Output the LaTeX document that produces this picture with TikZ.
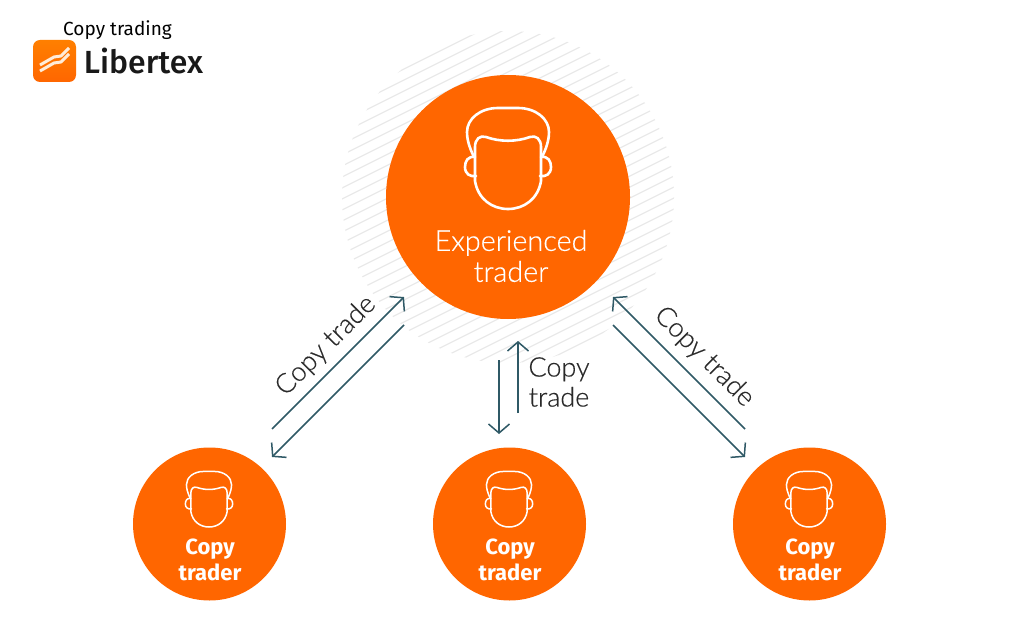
\documentclass[tikz,border=0pt]{standalone}
\usepackage{fontspec}
\setmainfont[FakeBold=0.35]{Lato Light}
\newfontfamily\fira{Fira Sans}
\newfontfamily\firam{Fira Sans Medium}
\usetikzlibrary{arrows.meta}
\definecolor{orangeM}{HTML}{FF6600}
\definecolor{arrowC}{HTML}{2F5966}
\definecolor{textC}{HTML}{2A2A2A}
\definecolor{hatchC}{HTML}{E9E9E9}
\newcommand{\facepic}[4]{% x, y, scale, line width
  \begin{scope}[shift={(#1,#2)},scale=#3,draw=white,line width=#4,line join=round,line cap=round,fill=none]
    % hair outline
    \draw (-34,-2) .. controls (-40,-14) and (-41,-22) .. (-41,-27)
      .. controls (-41,-40) and (-28,-51) .. (-10,-51)
      -- (10,-51) .. controls (28,-51) and (41,-40) .. (41,-27)
      .. controls (41,-22) and (40,-14) .. (34,-2);
    % face
    \draw (-33,22) .. controls (-33,10) and (-33,0) .. (-33,-12)
      .. controls (-33,-20) and (-28,-24) .. (-22,-22)
      .. controls (-8,-17) and (8,-17) .. (22,-22)
      .. controls (28,-24) and (33,-20) .. (33,-12)
      .. controls (33,0) and (33,10) .. (33,22)
      .. controls (30,40) and (16,50) .. (0,50)
      .. controls (-16,50) and (-30,40) .. (-33,22);
    % ears
    \draw (-33,-2) .. controls (-40,-3) and (-43,2) .. (-43,8)
      .. controls (-43,15) and (-38,18) .. (-32,17);
    \draw (33,-2) .. controls (40,-3) and (43,2) .. (43,8)
      .. controls (43,15) and (38,18) .. (32,17);
  \end{scope}}
\tikzset{
  big/.style={circle,fill=orangeM,minimum size=244pt,inner sep=0pt},
  small/.style={circle,fill=orangeM,minimum size=153pt,inner sep=0pt},
  biglabel/.style={text=white,align=center,font=\fontsize{28.8}{31}\selectfont},
  copylabel/.style={text=white,align=center,font=\fira\bfseries\fontsize{22}{25.5}\selectfont},
  flow/.style={draw=arrowC,line width=1.5pt,-{Straight Barb[length=9pt,width=21pt,line width=1.5pt]}},
  flowlabel/.style={text=textC,align=center,font=\fontsize{27}{30}\selectfont},
  hatch/.style={draw=hatchC,line width=1.2pt}
}
\begin{document}
\begin{tikzpicture}[x=1pt,y=-1pt]
\useasboundingbox (0,0) rectangle (1024,628);
\fill[white] (0,0) rectangle (1024,628);
% hatched halo
\begin{scope}
  \clip (508,197) circle[radius=166pt];
  \foreach \c in {0,11,...,660}{
    \draw[hatch] (300,{\c+270-0.5*(300-508)-330}) -- (720,{\c+270-0.5*(720-508)-330});
  }
\end{scope}
% circles
\node[big] (exp) at (508,197) {};
\node[small] (c1) at (209.5,524) {};
\node[small] (c2) at (509.5,524) {};
\node[small] (c3) at (809.5,524) {};
% faces
\facepic{508}{159}{1}{2.6pt}
\facepic{209}{499.5}{0.55}{1.5pt}
\facepic{509}{499.5}{0.55}{1.5pt}
\facepic{809}{499.5}{0.55}{1.5pt}
% labels
\node[biglabel] (explabel) at (511,256) {Experienced\\trader};
\node[copylabel] (c1label) at (210,560) {Copy\\trader};
\node[copylabel] (c2label) at (510,560) {Copy\\trader};
\node[copylabel] (c3label) at (810,560) {Copy\\trader};
% arrow ends
\coordinate (a1) at (272,429); \coordinate (a2) at (404,297);
\coordinate (b1) at (404,325); \coordinate (b2) at (272,457);
\coordinate (d1) at (518,413); \coordinate (d2) at (518,341);
\coordinate (e1) at (499,360); \coordinate (e2) at (499,434);
\coordinate (f1) at (745,429); \coordinate (f2) at (613,297);
\coordinate (g1) at (613,325); \coordinate (g2) at (745,457);
\draw[flow] (a1) -- (a2);
\draw[flow] (b1) -- (b2);
\draw[flow] (d1) -- (d2);
\draw[flow] (e1) -- (e2);
\draw[flow] (f1) -- (f2);
\draw[flow] (g1) -- (g2);
\node[flowlabel,rotate=45] (t1) at (326,346) {Copy trade};
\node[flowlabel] (t2) at (559,382) {Copy\\trade};
\node[flowlabel,rotate=-45] (t3) at (704,357) {Copy trade};
% logo
\node[inner sep=0pt,font=\fira\fontsize{19}{22}\selectfont,text=black] (cap) at (117.5,30) {Copy trading};
\node[inner sep=0pt,font=\firam\fontsize{32}{36}\selectfont,text=black!90] (brand) at (143.5,61) {Libertex};
\shade[rounded corners=7pt,top color=orange!100!black,bottom color=orangeM] (33,40) rectangle (76,82);
\foreach \d in {0,6}{
  \draw[white!85!orange,line width=3pt,line join=round]
    (40,{65+\d}) -- (54,{57+\d}) -- (61,{56+\d}) -- (69,{48+\d});
}
\end{tikzpicture}
\end{document}
